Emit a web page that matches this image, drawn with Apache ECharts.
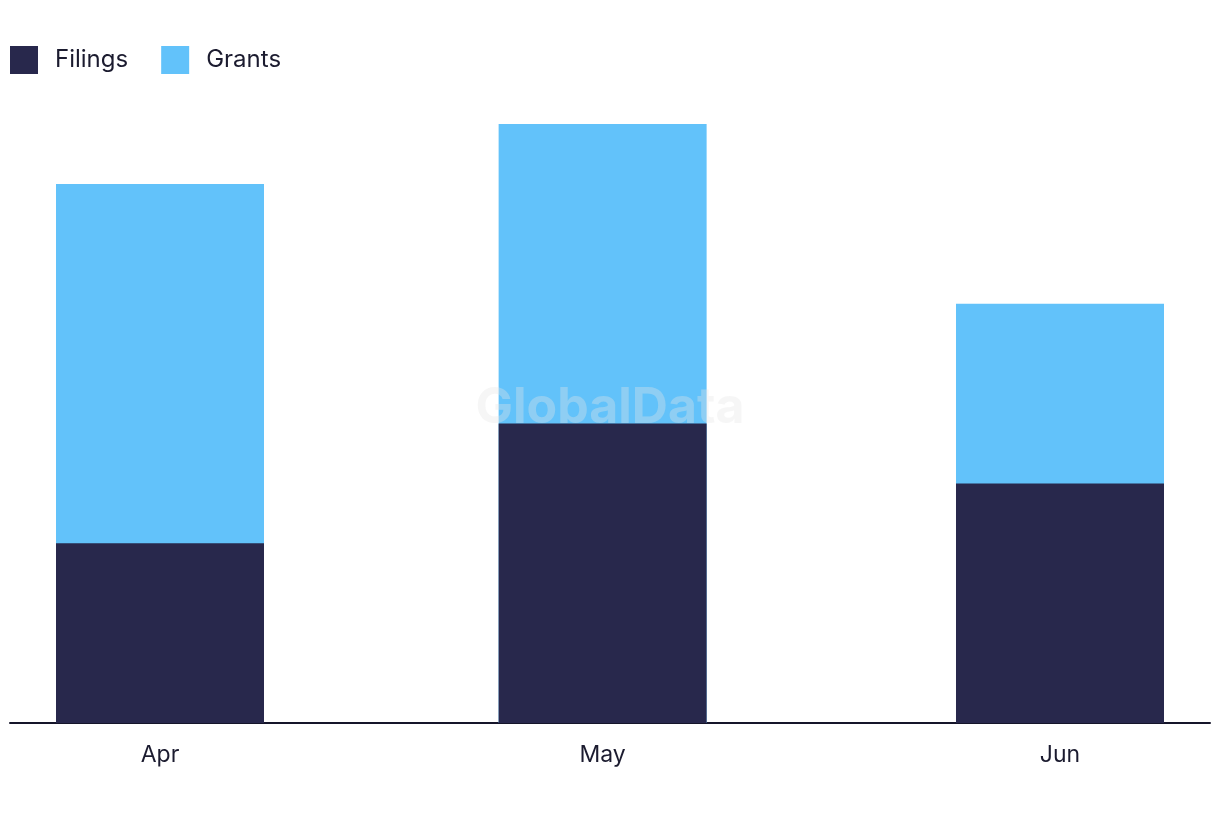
<!DOCTYPE html>
<html>
<head>
<meta charset="utf-8">
<script src="https://cdn.jsdelivr.net/npm/echarts@6/dist/echarts.min.js"></script>
<style>html,body{margin:0;padding:0;background:#fff}#c{width:1220px;height:822px}</style>
</head>
<body>
<div id="c"></div>
<script>
// Bar positions: days from 1 April (months are spaced by their real length)
const monthDays = [0, 30, 61];
const monthLabels = ['Apr', 'May', 'Jun'];
const filings = [3, 5, 4];
const grants = [6, 5, 3];

// Grants sits on top of Filings: draw the cumulative total behind the Filings bar
const grantsTop = filings.map((f, i) => f + grants[i]);

const chart = echarts.init(document.getElementById('c'));
const font = 'Inter, "Noto Sans", sans-serif';
chart.setOption({
  animation: false,
  graphic: [{
    type: 'text', left: 'center', top: 383, z: 100,
    style: { text: 'GlobalData', font: 'bold 50px ' + font, fill: 'rgba(230,230,230,0.35)' }
  }],
  legend: {
    left: 10, top: 46, padding: 0, itemWidth: 28, itemHeight: 28, itemGap: 33,
    icon: 'rect',
    textStyle: { fontFamily: font, fontSize: 24, color: '#1b1b2f', padding: [0, 0, 0, 12] },
    data: ['Filings', 'Grants']
  },
  grid: { left: 10, right: 10, top: 124, bottom: 99, containLabel: false },
  xAxis: {
    type: 'value', min: -10.167, max: 71.167,
    splitLine: { show: false },
    axisLine: { show: true, onZero: false, lineStyle: { color: '#15152a', width: 2 } },
    axisTick: { show: false },
    axisLabel: {
      customValues: monthDays,
      margin: 21,
      fontFamily: font, fontSize: 23, color: '#1b1b2f',
      formatter: v => monthLabels[monthDays.indexOf(v)] || ''
    }
  },
  yAxis: {
    type: 'value', min: 0, max: 10,
    show: false, splitLine: { show: false }
  },
  series: [
    { name: 'Grants', type: 'bar', barWidth: 208, barGap: '-100%', itemStyle: { color: '#62c2fa' },
      data: monthDays.map((d, i) => [d, grantsTop[i]]) },
    { name: 'Filings', type: 'bar', barWidth: 208, barGap: '-100%', itemStyle: { color: '#28284c' },
      data: monthDays.map((d, i) => [d, filings[i]]) }
  ]
});
</script>
</body>
</html>
